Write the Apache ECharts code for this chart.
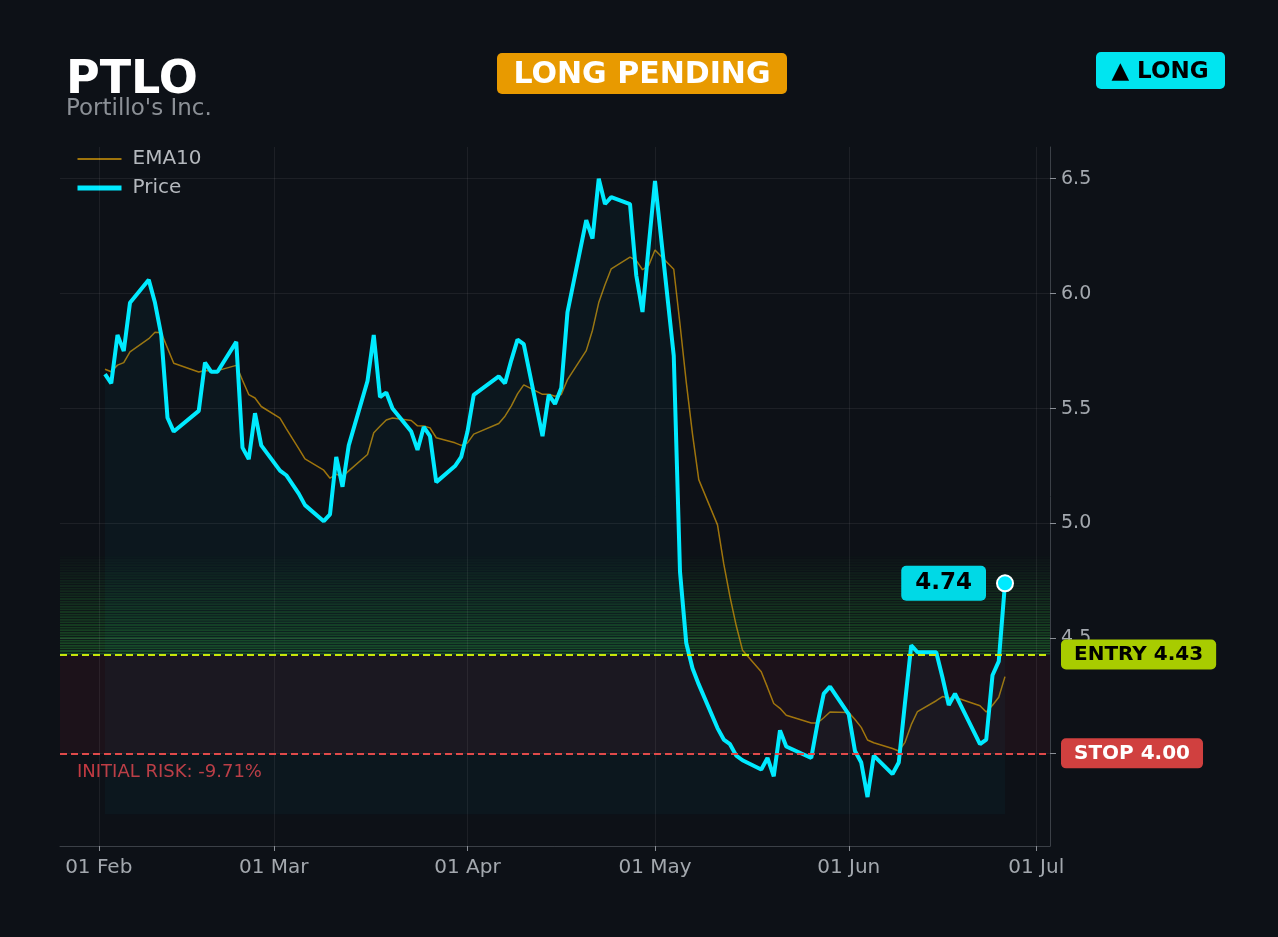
<!DOCTYPE html>
<html>
<head>
<meta charset="utf-8">
<script src="https://cdn.jsdelivr.net/npm/echarts@6/dist/echarts.min.js"></script>
<style>
html,body{margin:0;padding:0;background:#0d1117;}
#c{width:1278px;height:937px;}
</style>
</head>
<body>
<div id="c"></div>
<script>
const ticker = 'PTLO';
const company = "Portillo's Inc.";
const dates = [
 '2026-02-02','2026-02-03','2026-02-04','2026-02-05','2026-02-06','2026-02-09','2026-02-10','2026-02-11','2026-02-12','2026-02-13',
 '2026-02-17','2026-02-18','2026-02-19','2026-02-20','2026-02-23','2026-02-24','2026-02-25','2026-02-26','2026-02-27',
 '2026-03-02','2026-03-03','2026-03-04','2026-03-05','2026-03-06','2026-03-09','2026-03-10','2026-03-11','2026-03-12','2026-03-13',
 '2026-03-16','2026-03-17','2026-03-18','2026-03-19','2026-03-20','2026-03-23','2026-03-24','2026-03-25','2026-03-26','2026-03-27',
 '2026-03-30','2026-03-31',
 '2026-04-01','2026-04-02','2026-04-06','2026-04-07','2026-04-08','2026-04-09','2026-04-10','2026-04-13','2026-04-14','2026-04-15',
 '2026-04-16','2026-04-17','2026-04-20','2026-04-21','2026-04-22','2026-04-23','2026-04-24','2026-04-27','2026-04-28','2026-04-29','2026-04-30',
 '2026-05-01','2026-05-04','2026-05-05','2026-05-06','2026-05-07','2026-05-08','2026-05-11','2026-05-12','2026-05-13','2026-05-14',
 '2026-05-15','2026-05-18','2026-05-19','2026-05-20','2026-05-21','2026-05-22','2026-05-26','2026-05-27','2026-05-28','2026-05-29',
 '2026-06-01','2026-06-02','2026-06-03','2026-06-04','2026-06-05','2026-06-08','2026-06-09','2026-06-10','2026-06-11','2026-06-12',
 '2026-06-15','2026-06-16','2026-06-17','2026-06-18','2026-06-22','2026-06-23','2026-06-24','2026-06-25','2026-06-26'
];
const price = [
 5.65,5.61,5.82,5.75,5.96,6.06,5.96,5.82,5.46,5.40,5.49,5.70,5.66,5.66,5.79,5.33,5.28,5.48,5.34,
 5.23,5.21,5.17,5.13,5.08,5.01,5.04,5.29,5.16,5.34,5.62,5.82,5.55,5.57,5.50,5.40,5.32,5.42,5.38,5.18,5.25,5.29,
 5.40,5.56,5.64,5.61,5.71,5.80,5.78,5.38,5.56,5.52,5.59,5.92,6.32,6.24,6.50,6.39,6.42,6.39,6.08,5.92,6.21,
 6.49,5.73,4.79,4.48,4.37,4.30,4.11,4.06,4.04,3.99,3.97,3.93,3.98,3.90,4.10,4.03,3.98,4.13,4.26,4.29,
 4.17,4.01,3.96,3.81,3.99,3.91,3.96,4.22,4.47,4.44,4.44,4.33,4.21,4.26,4.04,4.06,4.34,4.40,4.74
];
const ema10 = [
 5.671,5.660,5.689,5.700,5.747,5.804,5.832,5.830,5.763,5.697,5.659,5.666,5.665,5.665,5.688,5.623,5.561,5.546,5.509,
 5.458,5.413,5.369,5.326,5.281,5.232,5.197,5.214,5.204,5.229,5.300,5.395,5.423,5.450,5.459,5.448,5.425,5.424,5.416,5.373,5.351,5.340,
 5.351,5.389,5.435,5.467,5.511,5.564,5.603,5.562,5.562,5.554,5.561,5.626,5.752,5.841,5.961,6.039,6.108,6.159,6.145,6.104,6.123,
 6.190,6.106,5.867,5.615,5.389,5.191,4.994,4.824,4.681,4.555,4.449,4.355,4.287,4.217,4.196,4.166,4.132,4.132,4.155,4.180,
 4.178,4.147,4.113,4.058,4.046,4.021,4.010,4.048,4.125,4.182,4.229,4.247,4.240,4.244,4.207,4.180,4.209,4.244,4.334
];
const entryPrice = 4.43;
const stopPrice = 4.00;
const zoneTop = 4.86;
const fillBase = 3.735;
const yTicks = [4.0, 4.5, 5.0, 5.5, 6.0, 6.5];
const monthTicks = ['2026-02-01','2026-03-01','2026-04-01','2026-05-01','2026-06-01','2026-07-01'];
const yMin = 3.597, yMax = 6.638;

function ts(s){const p=s.split('-').map(Number);return Date.UTC(p[0],p[1]-1,p[2]);}
const DAY = 86400000;
const xMin = ts(dates[0]) - 7.2*DAY;
const xMax = ts(dates[dates.length-1]) + 7.2*DAY;
const MON = ['Jan','Feb','Mar','Apr','May','Jun','Jul','Aug','Sep','Oct','Nov','Dec'];
function fmtDate(v){const d=new Date(v);return String(d.getUTCDate()).padStart(2,'0')+' '+MON[d.getUTCMonth()];}

const priceData = price.map((v,i)=>[ts(dates[i]), v]);
const emaData = ema10.map((v,i)=>[ts(dates[i]), v]);
const lastIdx = price.length-1;
const riskPct = ((stopPrice-entryPrice)/entryPrice*100).toFixed(2);

// green reward zone: striped bands fading upward
const nBands = 38;
const bands = [];
for(let i=0;i<nBands;i++){
  const step = (zoneTop-entryPrice)/nBands;
  const lo = entryPrice + step*i;
  const hi = lo + step*0.72;
  const a = 0.36*(1 - i/nBands) + 0.015;
  bands.push([{yAxis: lo, itemStyle:{color:'rgba(46,175,60,'+a.toFixed(3)+')'}},{yAxis: hi}]);
}
bands.push([{yAxis: stopPrice, itemStyle:{color:'rgba(200,40,55,0.085)'}},{yAxis: entryPrice}]);

const gridLines = yTicks.map(v=>({yAxis:v})).concat(monthTicks.map(m=>({xAxis:ts(m)})));

const chart = echarts.init(document.getElementById('c'), null, {renderer:'canvas'});
const FONT = 'DejaVu Sans';
const clear = {color:'rgba(0,0,0,0)', borderColor:'rgba(0,0,0,0)', borderWidth:0};
chart.setOption({
  animation: false,
  backgroundColor: '#0d1117',
  textStyle: {fontFamily: FONT},
  grid: {left: 60, right: 228, top: 147, bottom: 91, containLabel: false},
  legend: {
    data: [
      {name:'EMA10', itemStyle: clear, lineStyle: {color:'#b8860b', width: 2}},
      {name:'Price', itemStyle: clear, lineStyle: {color:'#00eaff', width: 5}}
    ],
    orient: 'vertical', left: 75, top: 149, padding: 0,
    itemWidth: 44, itemHeight: 14, itemGap: 9,
    textStyle: {color: '#b4b8bd', fontSize: 20, lineHeight: 20, padding: [0,0,0,6], fontFamily: FONT},
    inactiveColor: '#555'
  },
  xAxis: {
    type: 'value', min: xMin, max: xMax,
    axisLine: {show: true, lineStyle: {color: '#3b4047', width: 1}},
    axisTick: {show: true, length: 5, lineStyle: {color: '#8a8f96'}, customValues: monthTicks.map(ts)},
    axisLabel: {color: '#a3a8ae', fontSize: 20, margin: 12, fontFamily: FONT, customValues: monthTicks.map(ts), formatter: v=>fmtDate(v), showMinLabel: true, showMaxLabel: true},
    splitLine: {show: false}
  },
  yAxis: {
    type: 'value', position: 'right', min: yMin, max: yMax,
    axisLine: {show: true, lineStyle: {color: '#3b4047', width: 1}},
    axisTick: {show: true, length: 6, lineStyle: {color: '#8a8f96'}, customValues: yTicks},
    axisLabel: {color: '#a3a8ae', fontSize: 19, margin: 11, fontFamily: FONT, customValues: yTicks, formatter: v=>v.toFixed(1), padding: [2,0,0,0]},
    splitLine: {show: false}
  },
  series: [
    {
      name: 'zones', type: 'line', data: [], silent: true, z: 1,
      markArea: {silent: true, label: {show: false}, data: bands},
      markLine: {silent: true, symbol: 'none', label: {show: false},
        lineStyle: {color: 'rgba(255,255,255,0.065)', width: 1, type: 'solid'}, data: gridLines}
    },
    {
      name: 'EMA10', type: 'line', data: emaData, showSymbol: false, symbol: 'none', z: 3,
      lineStyle: {color: '#b8860b', width: 1.5, opacity: 0.85}, itemStyle: {color: '#b8860b'}
    },
    {
      name: 'Price', type: 'line', data: priceData, showSymbol: false, symbol: 'none', z: 4,
      lineStyle: {color: '#00eaff', width: 4}, itemStyle: {color: '#00eaff'},
      areaStyle: {color: 'rgba(0,229,255,0.045)', origin: fillBase},
      markLine: {
        silent: true, symbol: 'none',
        data: [
          {yAxis: entryPrice, lineStyle: {color: '#c8e60a', width: 2, type: [7,4]},
           label: {show: true, position: 'end', distance: 11, formatter: 'ENTRY ' + entryPrice.toFixed(2),
             backgroundColor: '#a8cc00', color: '#000', fontWeight: 'bold', fontSize: 20, fontFamily: FONT,
             padding: [5,13,5,13], borderRadius: 5}},
          {yAxis: stopPrice, lineStyle: {color: '#e04a4a', width: 2, type: [7,4]},
           label: {show: true, position: 'end', distance: 11, formatter: 'STOP ' + stopPrice.toFixed(2),
             backgroundColor: '#d0403f', color: '#fff', fontWeight: 'bold', fontSize: 20, fontFamily: FONT,
             padding: [5,13,5,13], borderRadius: 5}}
        ]
      },
      markPoint: {
        silent: true,
        data: [{coord: [ts(dates[lastIdx]), price[lastIdx]], value: price[lastIdx]}],
        symbol: 'circle', symbolSize: 16,
        itemStyle: {color: '#00eaff', borderColor: '#ffffff', borderWidth: 2},
        label: {show: true, position: 'left', distance: 10, formatter: p=>p.value.toFixed(2),
          backgroundColor: '#00d9e6', color: '#000', fontWeight: 'bold', fontSize: 23, fontFamily: FONT,
          padding: [6,14,6,14], borderRadius: 5}
      }
    }
  ],
  graphic: [
    {type: 'text', left: 66, top: 58, style: {text: ticker, fill: '#ffffff', font: 'bold 46px "DejaVu Sans"'}},
    {type: 'text', left: 66, top: 98, style: {text: company, fill: '#8b9096', font: '23px "DejaVu Sans"'}},
    {type: 'rect', shape: {x: 497, y: 53, width: 290, height: 41, r: 5}, style: {fill: '#e89a00'}},
    {type: 'text', x: 642, y: 75, style: {text: 'LONG PENDING', fill: '#ffffff', font: 'bold 30px "DejaVu Sans"', align: 'center', verticalAlign: 'middle'}},
    {type: 'rect', shape: {x: 1096, y: 52, width: 129, height: 37, r: 5}, style: {fill: '#00e5f0'}},
    {type: 'text', x: 1160, y: 72, style: {text: '▲ LONG', fill: '#000000', font: 'bold 23px "DejaVu Sans"', align: 'center', verticalAlign: 'middle'}},
    {type: 'text', x: 77, y: 772, style: {text: 'INITIAL RISK: ' + riskPct + '%', fill: '#c23a42', font: '18px "DejaVu Sans"', verticalAlign: 'middle'}}
  ]
});
</script>
</body>
</html>
